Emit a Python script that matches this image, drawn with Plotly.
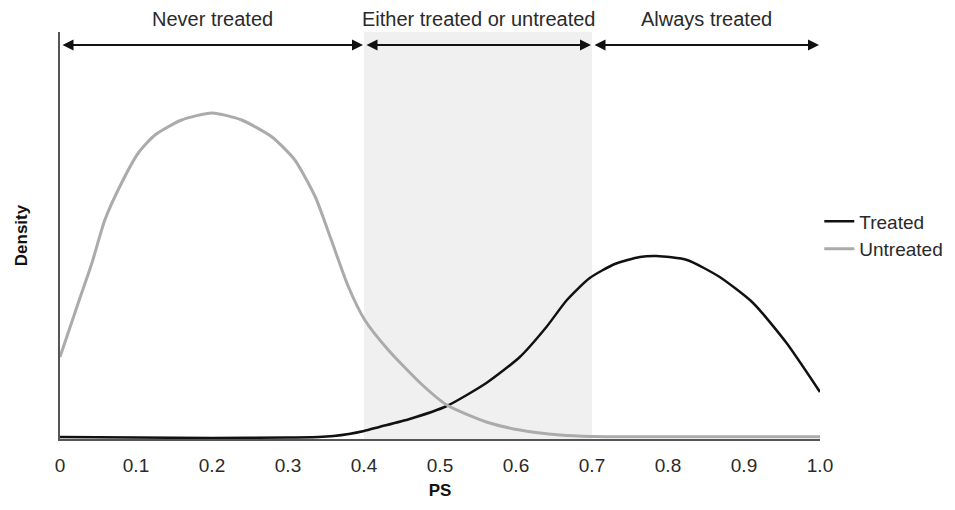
import plotly.graph_objects as go

# Data
untreated_x = [0.0, 0.024, 0.042, 0.059, 0.081, 0.103, 0.125, 0.16, 0.2, 0.239, 0.279,
               0.309, 0.336, 0.357, 0.379, 0.401, 0.432, 0.474, 0.509, 0.561, 0.605, 0.658,
               0.7, 0.8, 0.9, 1.0]
untreated_y = [0.82, 1.36, 1.76, 2.19, 2.56, 2.86, 3.04, 3.19, 3.26, 3.19, 3.02,
               2.79, 2.42, 1.99, 1.53, 1.19, 0.89, 0.56, 0.34, 0.17, 0.09, 0.04,
               0.025, 0.022, 0.022, 0.022]

treated_x = [0.0, 0.1, 0.2, 0.3, 0.34, 0.36, 0.38, 0.40, 0.42, 0.46, 0.509, 0.561, 0.605,
             0.64, 0.667, 0.697, 0.73, 0.763, 0.785, 0.825, 0.868, 0.912, 0.956, 1.0]
treated_y = [0.02, 0.015, 0.01, 0.015, 0.02, 0.03, 0.05, 0.08, 0.12, 0.20, 0.33, 0.56, 0.82,
             1.12, 1.39, 1.61, 1.75, 1.82, 1.83, 1.79, 1.62, 1.36, 0.96, 0.47]

region_bounds = [0.0, 0.4, 0.7, 1.0]
region_labels = ["Never treated", "Either treated or untreated", "Always treated"]
shade_range = [0.4, 0.7]

tick_vals = [0, 0.1, 0.2, 0.3, 0.4, 0.5, 0.6, 0.7, 0.8, 0.9, 1.0]
tick_text = ["0", "0.1", "0.2", "0.3", "0.4", "0.5", "0.6", "0.7", "0.8", "0.9", "1.0"]

Y_MAX = 4.07
ARROW_Y = 3.94

FONT = "Liberation Sans, Arial, sans-serif"

fig = go.Figure()
fig.add_trace(go.Scatter(x=treated_x, y=treated_y, mode="lines", name="Treated",
                         line=dict(color="#111111", width=2.5, shape="spline", smoothing=0.6)))
fig.add_trace(go.Scatter(x=untreated_x, y=untreated_y, mode="lines", name="Untreated",
                         line=dict(color="#ababab", width=3, shape="spline", smoothing=0.6)))

fig.add_shape(type="rect", xref="x", yref="y", x0=shade_range[0], x1=shade_range[1],
              y0=0, y1=Y_MAX, fillcolor="#f0f0f0", line=dict(width=0), layer="below")

for i, lab in enumerate(region_labels):
    a, b = region_bounds[i], region_bounds[i + 1]
    fig.add_annotation(x=b, y=ARROW_Y, ax=a, ay=ARROW_Y, xref="x", yref="y",
                       axref="x", ayref="y", text="", showarrow=True,
                       arrowside="end+start", arrowhead=2, arrowsize=1.1, arrowwidth=2,
                       arrowcolor="#111111", standoff=1, startstandoff=1)
    fig.add_annotation(x=(a + b) / 2, y=ARROW_Y, xref="x", yref="y", text=lab,
                       showarrow=False, yanchor="bottom", yshift=13,
                       font=dict(size=20, color="#2a2a2a", family=FONT))

# page body has an 8px margin; size the figure to fit inside the 955x510 window
fig.update_layout(
    width=939, height=492,
    margin=dict(l=52, r=127, t=24, b=61, autoexpand=False),
    plot_bgcolor="white", paper_bgcolor="white",
    font=dict(family=FONT, color="#222222"),
    legend=dict(xref="container", yref="container", x=0.864, y=0.538,
                xanchor="left", yanchor="middle",
                font=dict(size=19, color="#2a2a2a"), itemwidth=30,
                bgcolor="rgba(0,0,0,0)", tracegroupgap=0),
    xaxis=dict(range=[0, 1.0], tickvals=tick_vals, ticktext=tick_text, automargin=False,
               showgrid=False, zeroline=False, showline=True, linecolor="#555555",
               linewidth=1.5, ticks="", tickfont=dict(size=19, color="#2a2a2a"),
               ticklabelstandoff=8,
               title=dict(text="<b>PS</b>", font=dict(size=17, color="#111111"), standoff=20)),
    yaxis=dict(range=[0, Y_MAX], showticklabels=False, showgrid=False, zeroline=False,
               automargin=False,
               showline=True, linecolor="#555555", linewidth=1.5, ticks="",
               title=dict(text="<b>Density</b>", font=dict(size=17, color="#111111"), standoff=26)),
)

fig.write_html("out.html", config={"responsive": False})
